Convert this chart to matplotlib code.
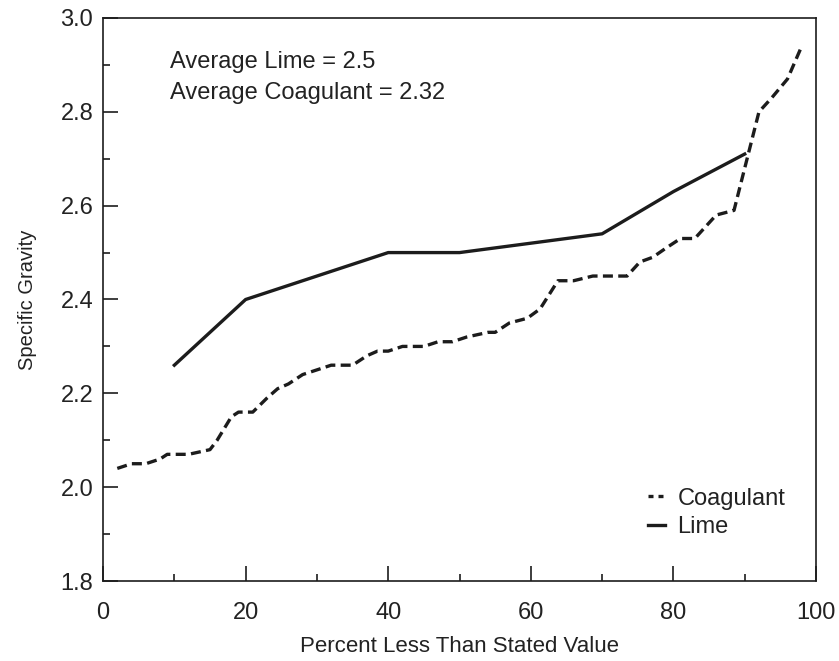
import matplotlib
matplotlib.use("Agg")
import matplotlib.pyplot as plt
from matplotlib.ticker import MultipleLocator

plt.rcParams['font.family'] = ['Liberation Sans', 'DejaVu Sans']

# Lime specific gravity vs cumulative percent
lime_pct = [10, 20, 40, 50, 70, 80, 90]
lime_sg = [2.26, 2.40, 2.50, 2.50, 2.54, 2.63, 2.71]

# Coagulant specific gravity vs cumulative percent
coag_pct = [2, 4, 6, 8, 9, 12, 15, 16, 18, 19, 21, 23, 24.5, 26, 28, 30, 32, 35,
            37, 38.5, 40, 42, 45, 47, 49, 51, 54, 55, 57, 59.5, 61.3, 63.8, 66,
            68.7, 70.7, 73.5, 75.3, 77.1, 79, 81, 83, 86, 88.5, 92, 93.8, 96, 98]
coag_sg = [2.04, 2.05, 2.05, 2.06, 2.07, 2.07, 2.08, 2.10, 2.15, 2.16, 2.16, 2.19,
           2.21, 2.22, 2.24, 2.25, 2.26, 2.26, 2.28, 2.29, 2.29, 2.30, 2.30, 2.31,
           2.31, 2.32, 2.33, 2.33, 2.35, 2.36, 2.38, 2.44, 2.44, 2.45, 2.45, 2.45,
           2.48, 2.49, 2.51, 2.53, 2.53, 2.58, 2.59, 2.80, 2.83, 2.87, 2.94]

x_ticks = [0, 20, 40, 60, 80, 100]
y_ticks = [1.8, 2.0, 2.2, 2.4, 2.6, 2.8, 3.0]

ink = '#1c1c1c'
txt = '#222222'

fig = plt.figure(figsize=(8.39, 6.61), dpi=100)
ax = fig.add_axes([0.1228, 0.121, 0.8498, 0.8518])

ax.plot(coag_pct, coag_sg, color=ink, lw=2.4, linestyle=(0, (3, 1.6)),
        label='Coagulant')
ax.plot(lime_pct, lime_sg, color=ink, lw=2.4, label='Lime')

ax.set_xlim(0, 100)
ax.set_ylim(1.8, 3.0)
ax.set_xticks(x_ticks)
ax.set_yticks(y_ticks)
ax.set_xticklabels([str(v) for v in x_ticks])
ax.set_yticklabels([f'{v:.1f}' for v in y_ticks])
ax.xaxis.set_minor_locator(MultipleLocator(10))
ax.yaxis.set_minor_locator(MultipleLocator(0.1))
ax.tick_params(which='both', direction='in', top=False, right=False,
               colors=ink, width=1.2, labelsize=17, labelcolor=txt)
ax.tick_params(which='major', length=10.8)
ax.tick_params(which='minor', length=5)
ax.tick_params(axis='x', which='major', pad=15)
ax.tick_params(axis='y', which='major', pad=7)
for s in ax.spines.values():
    s.set_color(ink)
    s.set_linewidth(1.2)

ax.set_xlabel('Percent Less Than Stated Value', fontsize=16, color=txt)
ax.set_ylabel('Specific Gravity', fontsize=14.5, color=txt)
ax.xaxis.set_label_coords(0.5, -0.098)
ax.yaxis.set_label_coords(-0.092, 0.5)

ax.text(9.4, 2.8934, 'Average Lime = 2.5', fontsize=17, color=txt,
        va='baseline', ha='left')
ax.text(9.4, 2.8274, 'Average Coagulant = 2.32', fontsize=17, color=txt,
        va='baseline', ha='left')

leg = ax.legend(loc='upper left', bbox_to_anchor=(0.764, 0.166), frameon=False,
                fontsize=17, handlelength=0.75, handletextpad=0.5,
                labelspacing=0.28, borderpad=0, borderaxespad=0)
for t in leg.get_texts():
    t.set_color(txt)
leg.get_lines()[0].set_dashes([1.5, 1.5])

fig.savefig('out.png', dpi=100)
